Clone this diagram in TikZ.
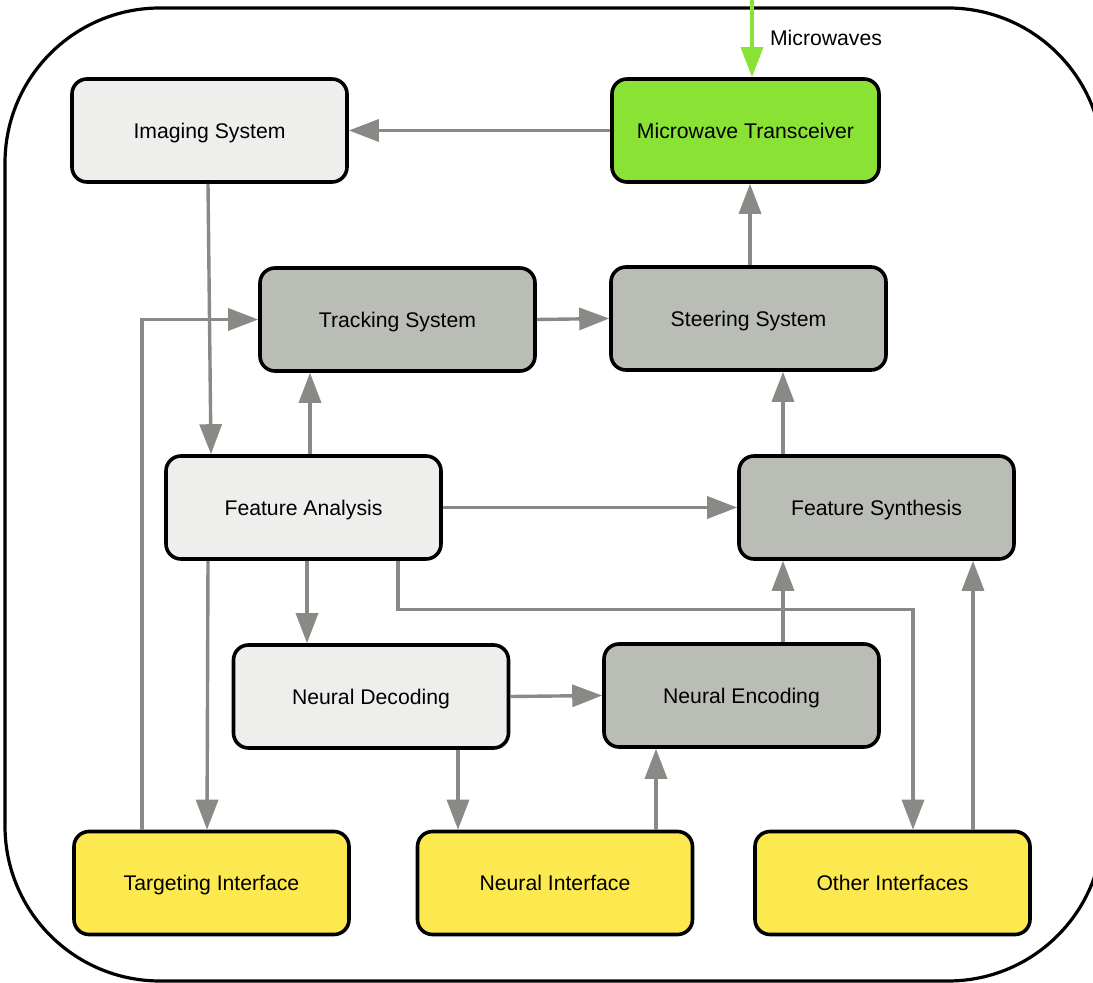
\documentclass[tikz,border=0pt]{standalone}
\usepackage{fontspec}
\setmainfont{Liberation Sans}
\usepackage{tikz}
\usetikzlibrary{calc,arrows.meta}

\definecolor{boxlight}{HTML}{EEEEEC}
\definecolor{boxdark}{HTML}{BABDB6}
\definecolor{boxgreen}{HTML}{8AE234}
\definecolor{boxyellow}{HTML}{FCE94F}
\definecolor{flowgray}{HTML}{888A85}

\begin{document}
\begin{tikzpicture}[x=0.5pt,y=-0.5pt,
	block/.style={draw=black,line width=1.8pt,rounded corners=7.5pt,
		minimum width=137.5pt,minimum height=51.5pt,inner xsep=2pt,
		text height=7.6pt,text depth=0pt,
		font=\fontsize{10.6}{12}\selectfont},
	light/.style={block,fill=boxlight},
	dark/.style={block,fill=boxdark},
	flow/.style={draw=flowgray,line width=1.7pt,
		-{Triangle[length=15pt,width=11pt]}}]
	\useasboundingbox (0,0) rectangle (1093,983);
	
	%frame
	\draw[line width=1.6pt,rounded corners=77.5pt] (5,8) rectangle (1103,981);
	
	%blocks
	\node[light] (img) at (209.5,130.5) {Imaging System};
	\node[block,fill=boxgreen,minimum width=133.5pt] (mw) at (745.5,130.5) {Microwave Transceiver};
	\node[dark] (trk) at (397.5,319.5) {Tracking System};
	\node[dark] (str) at (748.5,318.5) {Steering System};
	\node[light] (fa) at (303.5,507.5) {Feature Analysis};
	\node[dark] (fs) at (876.5,507.5) {Feature Synthesis};
	\node[light] (dec) at (371,696.5) {Neural Decoding};
	\node[dark] (enc) at (741.5,695.5) {Neural Encoding};
	%
	\node[block,fill=boxyellow] (tgt) at (211.5,883) {Targeting Interface};
	\node[block,fill=boxyellow] (neu) at (555,883) {Neural Interface};
	\node[block,fill=boxyellow] (oth) at (892.5,883) {Other Interfaces};
	
	%microwaves in
	\coordinate (src) at (752,-5);
	\draw[flow,draw=boxgreen] (src) -- ($(mw.north)+(6.5,0)$);
	\node[font=\fontsize{10.6}{12}\selectfont,text height=7.6pt,text depth=0pt] (mwlabel) at (826,38) {Microwaves};
	
	%connectors
	\draw[flow] (mw.west) -- (img.east);
	\draw[flow] ($(img.south)+(-1.5,0)$) -- ($(fa.north)+(-92.5,0)$);
	\draw[flow] ($(fa.north)+(6.5,0)$) -- ($(trk.south)+(-87.5,0)$);
	\draw[flow] (trk.east) -- (str.west);
	\draw[flow] ($(str.north)+(1.5,0)$) -- ($(mw.south)+(4.5,0)$);
	\draw[flow] ($(fs.north)+(-93.5,0)$) -- ($(str.south)+(34.5,0)$);
	\draw[flow] (fa.east) -- (fs.west);
	\draw[flow] ($(fa.south)+(3.5,0)$) -- ($(dec.north)+(-64,0)$);
	\draw[flow] ($(fa.south)+(94.5,0)$) -- ++(0,49) -| ($(oth.north)+(20.5,0)$);
	\draw[flow] ($(fa.south)+(-95.5,0)$) -- ($(tgt.north)+(-4.5,0)$);
	\draw[flow] ($(tgt.north)+(-69.5,0)$) |- (trk.west);
	\draw[flow] (dec.east) -- (enc.west);
	\draw[flow] ($(dec.south)+(87,0)$) -- ($(neu.north)+(-97,0)$);
	\draw[flow] ($(neu.north)+(101,0)$) -- ($(enc.south)+(-85.5,0)$);
	\draw[flow] ($(enc.north)+(41.5,0)$) -- ($(fs.south)+(-93.5,0)$);
	\draw[flow] ($(oth.north)+(80.5,0)$) -- ($(fs.south)+(96.5,0)$);
\end{tikzpicture}
\end{document}
